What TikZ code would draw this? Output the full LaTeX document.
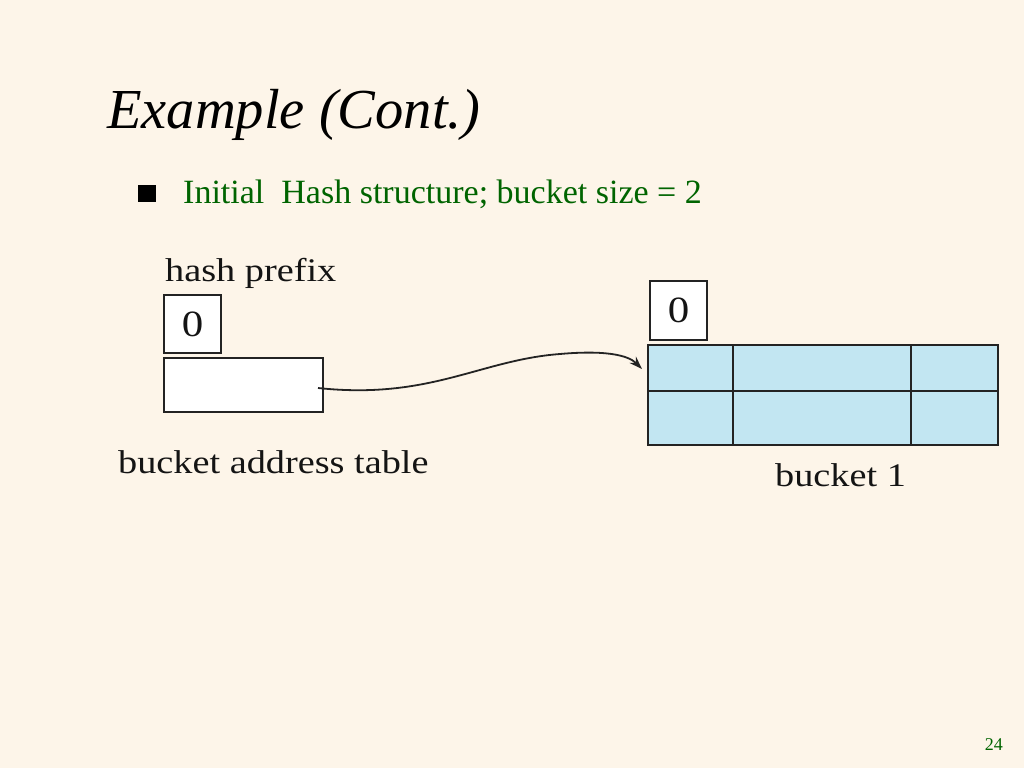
\documentclass[tikz,border=0pt]{standalone}
\usepackage{fontspec}
\setmainfont{Liberation Serif}
\newfontfamily\diagfont[FakeStretch=1.16]{Liberation Serif}
\usetikzlibrary{arrows.meta}
\definecolor{slidebg}{RGB}{253,245,233}
\definecolor{slidegreen}{RGB}{0,100,0}
\definecolor{bucketblue}{RGB}{194,230,242}
\definecolor{lineclr}{RGB}{35,35,35}
\tikzset{
  cellbox/.style={draw=lineclr, line width=1.5pt, fill=white, inner sep=0pt, outer sep=0pt},
  difftext/.style={font=\diagfont\fontsize{33}{36}\selectfont, text=black!92, inner sep=0pt, anchor=base west},
  digittext/.style={font=\diagfont\fontsize{37}{40}\selectfont, text=black!92, inner sep=0pt, anchor=base},
}
\begin{document}
\begin{tikzpicture}[x=1pt,y=-1pt]
\fill[slidebg] (0,0) rectangle (1024,768);
\useasboundingbox (0,0) rectangle (1024,768);
% title
\node[anchor=base west, inner sep=0pt, font=\fontsize{56.5}{60}\selectfont\itshape] (title) at (107,128) {Example (Cont.)};
% bullet
\fill[black] (138,185) rectangle (156,202);
\node[anchor=base west, inner sep=0pt, text=slidegreen, font=\fontsize{34}{38}\selectfont] (bullet) at (183,203) {Initial\ \ Hash structure; bucket size = 2};
% left structure
\node[difftext] (hp) at (165,281) {hash prefix};
\node[cellbox, minimum width=57pt, minimum height=58pt, anchor=north west] (lz) at (164,295) {};
\node[digittext] (lzt) at ([yshift=-12pt]lz.center) {0};
\node[cellbox, minimum width=159pt, minimum height=54pt, anchor=north west] (bat) at (164,358) {};
\node[difftext] (batl) at (118,473) {bucket address table};
% right structure
\node[cellbox, minimum width=57pt, minimum height=59pt, anchor=north west] (rz) at (650,281) {};
\node[digittext] (rzt) at ([yshift=-12pt]rz.center) {0};
\node[cellbox, fill=bucketblue, minimum width=350pt, minimum height=100pt, anchor=north west] (bk) at (648,345) {};
\draw[draw=lineclr, line width=1.5pt] (bk.west |- 0,391) -- (bk.east |- 0,391);
\draw[draw=lineclr, line width=1.5pt] (733,0 |- bk.north) -- (733,0 |- bk.south);
\draw[draw=lineclr, line width=1.5pt] (911,0 |- bk.north) -- (911,0 |- bk.south);
\node[difftext] (bkl) at (775,486) {bucket 1};
% pointer
\coordinate (ps) at (318,388);
\coordinate (pe) at (642,369);
\draw[line width=1.8pt, lineclr, -{Stealth[length=13pt,width=9pt]}]
  (ps) .. controls (430,400) and (480,360) .. (560,354)
       .. controls (605,350) and (628,355) .. (pe);
% page number
\node[anchor=base east, inner sep=0pt, text=slidegreen, font=\fontsize{18}{20}\selectfont] (pg) at (1003,750) {24};
\end{tikzpicture}
\end{document}
